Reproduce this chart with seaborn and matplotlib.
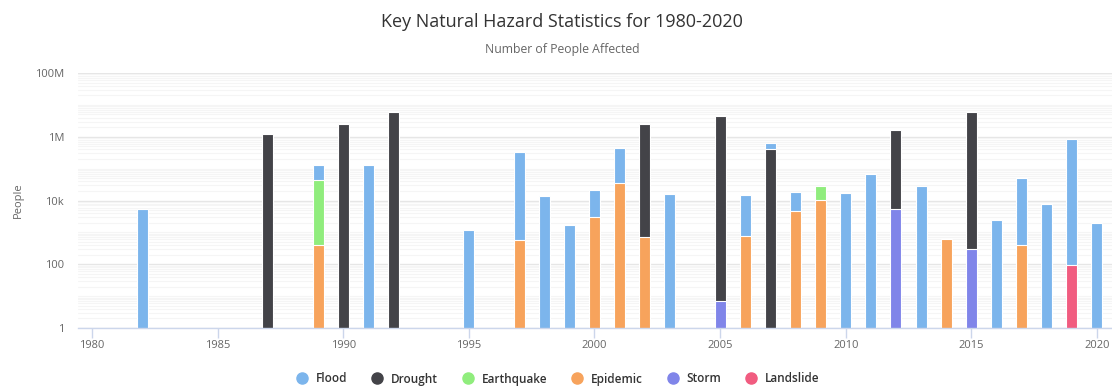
import numpy as np
import pandas as pd
import matplotlib
matplotlib.use("Agg")
import matplotlib.pyplot as plt
from matplotlib.ticker import FixedLocator, LogLocator, NullFormatter
from matplotlib.lines import Line2D
import seaborn as sns

# ---- data (people affected, per hazard, per year) ----
years = [1982, 1987, 1989, 1990, 1991, 1992, 1995, 1997, 1998, 1999,
         2000, 2001, 2002, 2003, 2005, 2006, 2007, 2008, 2009, 2010,
         2011, 2012, 2013, 2014, 2015, 2016, 2017, 2018, 2019, 2020]
flood = [5300, 0, 83000, 0, 130000, 0, 1150, 340000, 13500, 1750,
         18000, 422000, 0, 16300, 0, 13700, 200000, 14400, 0, 17500,
         70000, 0, 27700, 0, 0, 2400, 50000, 7900, 830000, 1900]
drought = [0, 1200000, 0, 2500000, 0, 5800000, 0, 0, 0, 0,
           0, 0, 2470000, 0, 4400000, 0, 420000, 0, 0, 0,
           0, 1600000, 0, 0, 5800000, 0, 0, 0, 0, 0]
earthquake = [0, 0, 43600, 0, 0, 0, 0, 0, 0, 0,
              0, 0, 0, 0, 0, 0, 0, 0, 17400, 0,
              0, 0, 0, 0, 0, 0, 0, 0, 0, 0]
epidemic = [0, 0, 400, 0, 0, 0, 0, 570, 0, 0,
            2950, 34600, 710, 0, 0, 760, 0, 4600, 10300, 0,
            0, 0, 0, 600, 0, 0, 410, 0, 0, 0]
storm = [0, 0, 0, 0, 0, 0, 0, 0, 0, 0,
         0, 0, 0, 0, 7, 0, 0, 0, 0, 0,
         0, 5500, 0, 0, 310, 0, 0, 0, 0, 0]
landslide = [0, 0, 0, 0, 0, 0, 0, 0, 0, 0,
             0, 0, 0, 0, 0, 0, 0, 0, 0, 0,
             0, 0, 0, 0, 0, 0, 0, 0, 98, 0]

series_names = ["Flood", "Drought", "Earthquake", "Epidemic", "Storm", "Landslide"]
series_values = [flood, drought, earthquake, epidemic, storm, landslide]
series_colors = ["#7cb5ec", "#434348", "#90ed7d", "#f7a35c", "#8085e9", "#f15c80"]

# ---- style ----
sns.set_theme(style="white")
plt.rcParams["font.family"] = ["Open Sans", "DejaVu Sans"]

fig = plt.figure(figsize=(11.12, 3.87), dpi=100)
ax = fig.add_axes([78 / 1112, 59 / 387, 1 - 78 / 1112, 255 / 387])

# stacking order bottom -> top: Landslide, Storm, Epidemic, Earthquake, Drought, Flood
stack_order = list(range(len(series_names)))[::-1]
cums = {}
running = np.zeros(len(years))
for i in stack_order:
    vals = np.array(series_values[i], dtype=float)
    running = running + vals
    cums[i] = np.where(vals > 0, running, 0.0)

# draw from top layer down so lower layers paint over
for i in range(len(series_names)):
    df = pd.DataFrame({"year": years, "people": cums[i]})
    sns.barplot(data=df, x="year", y="people", native_scale=True,
                color=series_colors[i], saturation=1, width=0.44,
                errorbar=None, edgecolor="white", linewidth=0.8, ax=ax,
                zorder=3)

ax.set_yscale("log")
ax.set_ylim(1, 1e8)
ax.set_xlim(1979.44, 2020.6)

ax.yaxis.set_major_locator(FixedLocator([1, 100, 1e4, 1e6, 1e8]))
ax.set_yticklabels(["1", "100", "10k", "1M", "100M"])
ax.yaxis.set_minor_locator(LogLocator(base=10, subs=np.arange(1, 10), numticks=100))
ax.yaxis.set_minor_formatter(NullFormatter())
ax.grid(True, which="major", axis="y", color="#e6e6e6", linewidth=1, zorder=0)
ax.grid(True, which="minor", axis="y", color="#f5f5f5", linewidth=0.8, zorder=0)
ax.grid(False, axis="x")

ax.set_xticks(range(1980, 2021, 5))
ax.set_xticklabels([str(y) for y in range(1980, 2021, 5)])
ax.tick_params(axis="x", which="both", length=7, width=1, color="#ccd6eb",
               labelsize=8, labelcolor="#666666", pad=2, direction="out", bottom=True)
ax.tick_params(axis="y", which="both", length=0, labelsize=8, labelcolor="#666666", pad=10)
ax.tick_params(axis="y", which="minor", length=0)

for s in ["top", "right", "left"]:
    ax.spines[s].set_visible(False)
ax.spines["bottom"].set_color("#ccd6eb")
ax.spines["bottom"].set_linewidth(1)
ax.spines["bottom"].set_zorder(4)

ax.set_xlabel("")
ax.set_ylabel("People", fontsize=8, color="#666666", labelpad=8)

fig.text(562 / 1112, 1 - 22 / 387, "Key Natural Hazard Statistics for 1980-2020",
         ha="center", va="center", fontsize=13, color="#333333")
fig.text(562 / 1112, 1 - 49 / 387, "Number of People Affected",
         ha="center", va="center", fontsize=8.8, color="#666666")

handles = [Line2D([0], [0], marker="o", linestyle="", markersize=8,
                  markerfacecolor=c, markeredgecolor=c) for c in series_colors]
fig.legend(handles, series_names, loc="center", bbox_to_anchor=(555 / 1112, 1 - 379 / 387),
           ncol=6, frameon=False, handletextpad=0.2, columnspacing=1.5,
           labelcolor="#333333", prop={"size": 8.5, "weight": "semibold"})

fig.savefig("out.png", dpi=100)
